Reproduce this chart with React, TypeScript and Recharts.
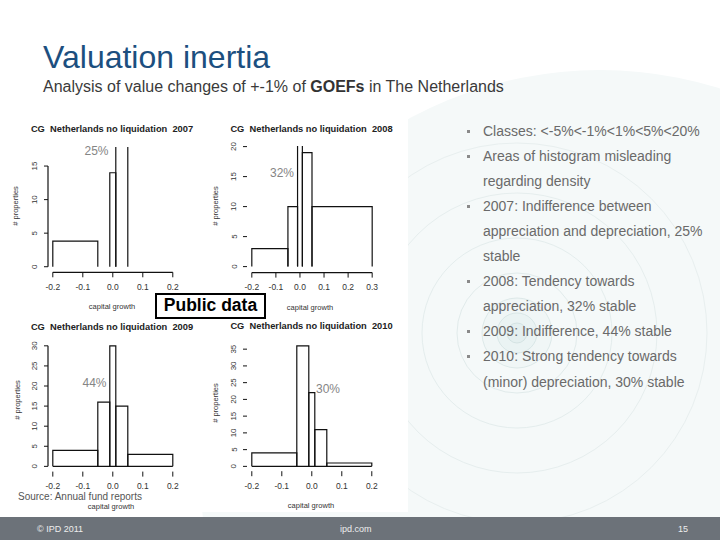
import React from 'react';
import { ComposedChart, Line, XAxis, YAxis, ReferenceLine } from 'recharts';

const FONT = '"Liberation Sans", Arial, Helvetica, sans-serif';

// class boundaries (capital growth) and bar heights
const classEdges = [-0.2, -0.05, -0.01, 0.01, 0.05, 0.2];
const classEdges2008 = [-0.2, -0.05, -0.01, 0.01, 0.05, 0.3];
const counts2007 = [3.8, 0, 14, 20, 0];
const counts2008 = [3, 10, 21, 19, 10];
const counts2009 = [4, 16, 30, 15, 3];
const counts2010 = [4, 36, 22, 11, 1];

const xTicksA = [-0.2, -0.1, 0, 0.1, 0.2];
const xTicks2008 = [-0.2, -0.1, 0, 0.1, 0.2, 0.3];
const yTicks2007 = [0, 5, 10, 15];
const yTicks2008 = [0, 5, 10, 15, 20];
const yTicks2009 = [0, 5, 10, 15, 20, 25, 30];
const yTicks2010 = [0, 5, 10, 15, 20, 25, 30, 35];

const years = ['2007', '2008', '2009', '2010'];
const stableShares = ['25%', '32%', '44%', '30%'];

const bulletLines: { b: boolean; t: string }[] = [
  { b: true, t: 'Classes: <-5%<-1%<1%<5%<20%' },
  { b: true, t: 'Areas of histogram misleading' },
  { b: false, t: 'regarding density' },
  { b: true, t: '2007: Indifference between' },
  { b: false, t: 'appreciation and depreciation, 25%' },
  { b: false, t: 'stable' },
  { b: true, t: '2008: Tendency towards' },
  { b: false, t: 'appreciation, 32% stable' },
  { b: true, t: '2009: Indifference, 44% stable' },
  { b: true, t: '2010: Strong tendency towards' },
  { b: false, t: '(minor) depreciation, 30% stable' },
];

const YW = 30;
const XH = 30;
const MT = 12;
const MR = 12;

function XTick(props: any) {
  const { x, y, payload } = props;
  return (
    <text x={x} y={y + 7.5} textAnchor="middle" dominantBaseline="central" fontSize={8.5} fontFamily={FONT} fill="#333">
      {Number(payload.value).toFixed(1)}
    </text>
  );
}

function YTick(props: any) {
  const { x, y, payload } = props;
  const cx = x - 7;
  return (
    <text x={cx} y={y} transform={`rotate(-90 ${cx} ${y})`} textAnchor="middle" dominantBaseline="central" fontSize={8} fontFamily={FONT} fill="#333">
      {payload.value}
    </text>
  );
}

type PanelProps = {
  edges: number[];
  counts: number[];
  xTicks: number[];
  yTicks: number[];
  xDomain: [number, number];
  yDomain: [number, number];
  plot: { left: number; top: number; width: number; height: number };
  xLine: boolean;
  yLine: boolean;
  base: boolean;
};

function Histogram(p: PanelProps) {
  const left = p.plot.left - YW;
  const top = p.plot.top - MT;
  const width = p.plot.width + YW + MR;
  const height = p.plot.height + MT + XH;
  const bins = p.counts
    .map((c, i) => ({ x0: p.edges[i], x1: p.edges[i + 1], c }))
    .filter((b) => b.c > 0);
  const lo = p.edges[0];
  const hi = p.edges[p.edges.length - 1];
  return (
    <div style={{ position: 'absolute', left, top, width, height }}>
      <ComposedChart width={width} height={height} margin={{ top: MT, right: MR, bottom: 0, left: 0 }}>
        <XAxis
          type="number"
          dataKey="x"
          domain={p.xDomain}
          allowDataOverflow
          ticks={p.xTicks}
          interval={0}
          axisLine={false}
          tickLine={{ stroke: '#111' }}
          tickSize={5}
          height={XH}
          tick={XTick}
        />
        <YAxis
          type="number"
          domain={p.yDomain}
          allowDataOverflow
          ticks={p.yTicks}
          interval={0}
          axisLine={false}
          tickLine={{ stroke: '#111' }}
          tickSize={4}
          width={YW}
          tick={YTick}
        />
        {p.base && (
          <Line
            data={[{ x: lo, y: 0 }, { x: hi, y: 0 }]}
            dataKey="y"
            type="linear"
            stroke="#111"
            strokeWidth={1.2}
            dot={false}
            activeDot={false}
            isAnimationActive={false}
          />
        )}
        {bins.map((b, i) => (
          <Line
            key={i}
            data={[
              { x: b.x0, y: 0 },
              { x: b.x0, y: b.c },
              { x: b.x1, y: b.c },
              { x: b.x1, y: 0 },
            ]}
            dataKey="y"
            type="linear"
            stroke="#111"
            strokeWidth={1.2}
            dot={false}
            activeDot={false}
            isAnimationActive={false}
          />
        ))}
        {p.xLine && (
          <ReferenceLine
            segment={[
              { x: p.xTicks[0], y: p.yDomain[0] },
              { x: p.xTicks[p.xTicks.length - 1], y: p.yDomain[0] },
            ]}
            stroke="#111"
            strokeWidth={1.2}
            ifOverflow="visible"
          />
        )}
        {p.yLine && (
          <ReferenceLine
            segment={[
              { x: p.xDomain[0], y: p.yTicks[0] },
              { x: p.xDomain[0], y: p.yTicks[p.yTicks.length - 1] },
            ]}
            stroke="#111"
            strokeWidth={1.2}
            ifOverflow="visible"
          />
        )}
      </ComposedChart>
    </div>
  );
}

const titleStyle: React.CSSProperties = { whiteSpace: 'pre' };

export default function App() {
  const panelTitles = years.map((y) => `CG  Netherlands no liquidation  ${y}`);
  return (
    <div
      style={{
        position: 'absolute',
        left: 0,
        top: 0,
        width: 720,
        height: 540,
        overflow: 'hidden',
        background: '#ffffff',
        fontFamily: FONT,
      }}
    >
      <svg width={720} height={540} style={{ position: 'absolute', left: 0, top: 0 }}>
        <circle cx={600} cy={470} r={400} fill="#f5f9f9" />
        <circle cx={517} cy={333} r={190} fill="none" stroke="#e8efef" />
        <circle cx={517} cy={333} r={140} fill="none" stroke="#e6eeee" />
        <circle cx={517} cy={333} r={95} fill="none" stroke="#e4eded" />
        <circle cx={517} cy={333} r={60} fill="none" stroke="#e1ebeb" />
        <circle cx={517} cy={333} r={35} fill="#f0f6f6" stroke="#dde9e9" />
        <circle cx={517} cy={333} r={20} fill="#eaf3f3" stroke="#d9e7e7" />
        <circle cx={517} cy={333} r={10} fill="#e4efef" stroke="#d4e3e3" />
        <rect x={20} y={113} width={388} height={399} fill="#ffffff" />
        <rect x={0} y={517} width={720} height={23} fill="#6c7279" />
      </svg>

      <div
        style={{
          position: 'absolute',
          left: 43,
          top: 41,
          fontSize: 32,
          lineHeight: '32px',
          color: '#1c4f7f',
          whiteSpace: 'nowrap',
        }}
      >
        Valuation inertia
      </div>
      <div
        style={{
          position: 'absolute',
          left: 43,
          top: 78,
          fontSize: 16,
          lineHeight: '18px',
          color: '#3a3a3a',
          whiteSpace: 'nowrap',
        }}
      >
        Analysis of value changes of +-1% of <b style={{ color: '#333' }}>GOEFs</b> in The Netherlands
      </div>

      {bulletLines.map((l, i) => (
        <div
          key={i}
          style={{
            position: 'absolute',
            left: 483,
            top: 118.5 + i * 25.1,
            fontSize: 14,
            lineHeight: '25px',
            color: '#6a6a6a',
            whiteSpace: 'nowrap',
          }}
        >
          {l.b && (
            <span
              style={{
                position: 'absolute',
                left: -16,
                top: 11,
                width: 3,
                height: 3,
                background: '#8a8a8a',
              }}
            />
          )}
          {l.t}
        </div>
      ))}

      <Histogram
        edges={classEdges}
        counts={counts2007}
        xTicks={xTicksA}
        yTicks={yTicks2007}
        xDomain={[-0.216, 0.216]}
        yDomain={[-0.83, 17.84]}
        plot={{ left: 47.5, top: 147, width: 129.6, height: 125.3 }}
        xLine={true}
        yLine={true}
        base={false}
      />
      <Histogram
        edges={classEdges2008}
        counts={counts2008}
        xTicks={xTicks2008}
        yTicks={yTicks2008}
        xDomain={[-0.22, 0.32]}
        yDomain={[-1.0, 20.1]}
        plot={{ left: 246.5, top: 146.1, width: 130.0, height: 126.6 }}
        xLine={true}
        yLine={false}
        base={false}
      />
      <Histogram
        edges={classEdges}
        counts={counts2009}
        xTicks={xTicksA}
        yTicks={yTicks2009}
        xDomain={[-0.216, 0.216]}
        yDomain={[-1.3, 31.2]}
        plot={{ left: 47.5, top: 340.6, width: 129.6, height: 130.6 }}
        xLine={false}
        yLine={true}
        base={true}
      />
      <Histogram
        edges={classEdges}
        counts={counts2010}
        xTicks={xTicksA}
        yTicks={yTicks2010}
        xDomain={[-0.216, 0.216]}
        yDomain={[-1.44, 37.44]}
        plot={{ left: 246.9, top: 340.6, width: 129.6, height: 130.2 }}
        xLine={false}
        yLine={false}
        base={true}
      />

      <svg width={720} height={540} style={{ position: 'absolute', left: 0, top: 0, pointerEvents: 'none' }}>
        <g fontFamily={FONT} fontWeight="bold" fontSize={9.3} fill="#222" textAnchor="middle">
          <text x={112} y={128.5} dominantBaseline="central" style={titleStyle}>{panelTitles[0]}</text>
          <text x={311.5} y={129} dominantBaseline="central" style={titleStyle}>{panelTitles[1]}</text>
          <text x={112} y={327} dominantBaseline="central" style={titleStyle}>{panelTitles[2]}</text>
          <text x={311.5} y={326} dominantBaseline="central" style={titleStyle}>{panelTitles[3]}</text>
        </g>
        <g fontFamily={FONT} fontSize={12} fill="#858585" textAnchor="middle">
          <text x={96.5} y={151} dominantBaseline="central">{stableShares[0]}</text>
          <text x={282} y={172.5} dominantBaseline="central">{stableShares[1]}</text>
          <text x={94.5} y={382.5} dominantBaseline="central">{stableShares[2]}</text>
          <text x={328} y={389} dominantBaseline="central">{stableShares[3]}</text>
        </g>
        <g fontFamily={FONT} fontSize={7.5} fill="#333" textAnchor="middle">
          <text x={15} y={206} dominantBaseline="central" transform="rotate(-90 15 206)"># properties</text>
          <text x={215} y={206} dominantBaseline="central" transform="rotate(-90 215 206)"># properties</text>
          <text x={17} y={400} dominantBaseline="central" transform="rotate(-90 17 400)"># properties</text>
          <text x={215} y={403} dominantBaseline="central" transform="rotate(-90 215 403)"># properties</text>
          <text x={112} y={306.5} dominantBaseline="central">capital growth</text>
          <text x={310} y={307} dominantBaseline="central">capital growth</text>
          <text x={111} y={506} dominantBaseline="central">capital growth</text>
          <text x={311} y={505} dominantBaseline="central">capital growth</text>
        </g>
      </svg>

      <div
        style={{
          position: 'absolute',
          left: 155,
          top: 293,
          width: 111,
          height: 26,
          boxSizing: 'border-box',
          border: '2.5px solid #000',
          background: '#fff',
          fontWeight: 'bold',
          fontSize: 17.5,
          lineHeight: '21px',
          textAlign: 'center',
          color: '#000',
          whiteSpace: 'nowrap',
        }}
      >
        Public data
      </div>

      <div
        style={{
          position: 'absolute',
          left: 18,
          top: 491,
          fontSize: 10,
          lineHeight: '11px',
          color: '#555',
          whiteSpace: 'nowrap',
        }}
      >
        Source: Annual fund reports
      </div>

      <div style={{ position: 'absolute', left: 37, top: 523, fontSize: 9, lineHeight: '12px', color: '#eeeeee', whiteSpace: 'nowrap' }}>
        © IPD 2011
      </div>
      <div style={{ position: 'absolute', left: 340, top: 523, fontSize: 9, lineHeight: '12px', color: '#eeeeee', whiteSpace: 'nowrap' }}>
        ipd.com
      </div>
      <div style={{ position: 'absolute', left: 678, top: 523, fontSize: 9, lineHeight: '12px', color: '#eeeeee', whiteSpace: 'nowrap' }}>
        15
      </div>
    </div>
  );
}
